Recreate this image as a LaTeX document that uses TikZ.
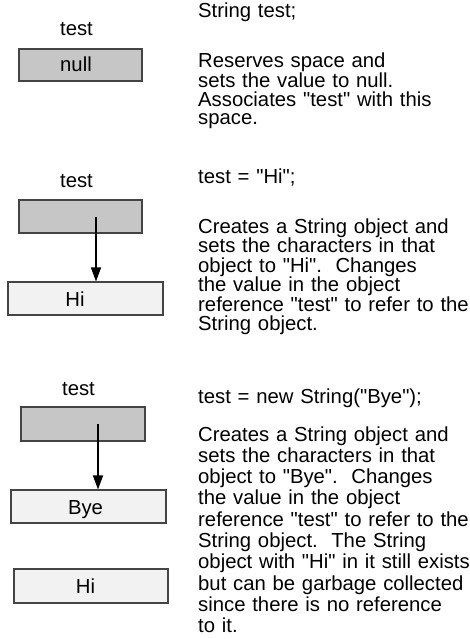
\documentclass[tikz,border=0pt]{standalone}
\usepackage{fontspec}
\setmainfont{Liberation Sans}[Ligatures=TeXOff]
\usetikzlibrary{arrows.meta}
\definecolor{refgray}{HTML}{C6C6C6}
\definecolor{objfill}{HTML}{F2F2F2}
\definecolor{edgegray}{HTML}{444444}
\begin{document}
\begin{tikzpicture}[x=1pt,y=-1pt,
  every node/.style={font=\fontsize{20.3}{18.5}\selectfont, inner sep=0pt},
  varbox/.style={draw=edgegray, line width=1.1pt, fill=refgray, rectangle, minimum width=123pt, minimum height=32pt},
  objbox/.style={draw=edgegray, line width=1.1pt, fill=objfill, rectangle, minimum width=155pt, minimum height=33pt},
  lbl/.style={anchor=base},
  desc/.style={anchor=base west, align=left, text width=300pt},
  refarrow/.style={-{Triangle[width=10pt,length=14pt]}, line width=1.2pt, black}]
\useasboundingbox (0,0) rectangle (469,639);

% left column: boxes
\node[varbox] (box1) at (80.5,65) {};
\node[varbox, minimum height=33pt] (box2) at (80.5,216.5) {};
\node[varbox, minimum width=124pt, minimum height=34pt] (box3) at (83,424) {};
\node[objbox] (hi1) at (85.5,298.5) {};
\node[objbox] (bye) at (88.5,506.5) {};
\node[objbox, minimum width=154pt, minimum height=34pt] (hi2) at (91,586) {};

% labels
\node[lbl] (t1) at (76.5,36) {test};
\node[lbl] (nulltxt) at (76,72) {null};
\node[lbl] (t2) at (76.5,187) {test};
\node[lbl] (hitxt1) at (75,306) {Hi};
\node[lbl] (t3) at (78.5,395) {test};
\node[lbl] (byetxt) at (85.5,514) {Bye};
\node[lbl] (hitxt2) at (85.5,593) {Hi};

% references
\draw[refarrow] ([xshift=15.5pt]box2.center) -- ([xshift=15.5pt]box2.center |- hi1.north);
\draw[refarrow] ([xshift=15pt]box3.center) -- ([xshift=15pt]box3.center |- bye.north);

% right column: descriptions
\node[desc] (c1) at (198,17.5) {String test;};
\node[desc] (d1) at (198,68) {Reserves space and\\sets the value to null.\\Associates "test" with this\\space.};
\node[desc] (c2) at (198,183) {test = "Hi";};
\node[desc, font=\fontsize{20.3}{19.5}\selectfont] (d2) at (198,233) {Creates a String object and\\sets the characters in that\\object to "Hi".\ \ Changes\\the value in the object\\reference "test" to refer to the\\String object.};
\node[desc] (c3) at (198,403) {test = new String("Bye");};
\node[desc, font=\fontsize{20.3}{21.3}\selectfont] (d3) at (198,441) {Creates a String object and\\sets the characters in that\\object to "Bye".\ \ Changes\\the value in the object\\reference "test" to refer to the\\String object.\ \ The String\\object with "Hi" in it still exists\\but can be garbage collected\\since there is no reference\\to it.};
\end{tikzpicture}
\end{document}
